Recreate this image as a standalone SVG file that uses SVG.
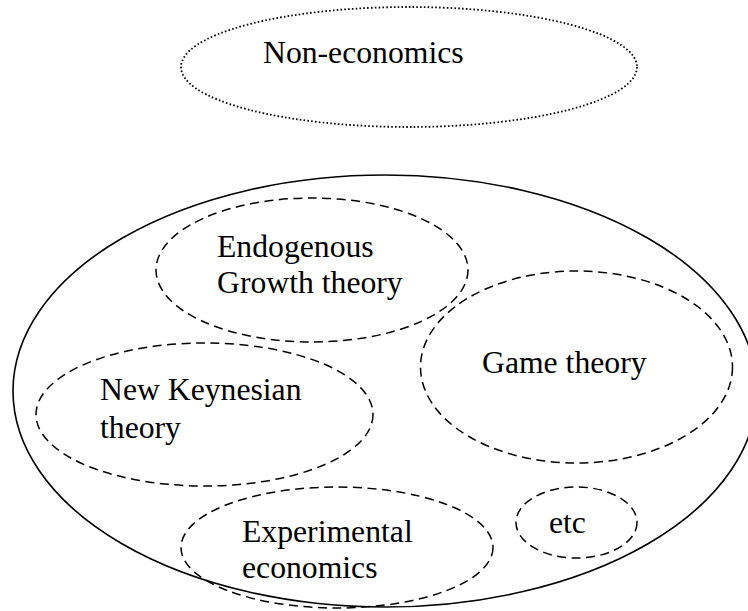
<svg xmlns="http://www.w3.org/2000/svg" width="748" height="611" viewBox="0 0 748 611">
<style>
.solid{fill:none;stroke:#000;stroke-width:1.6}
.dash{fill:none;stroke:#000;stroke-width:1.5;stroke-dasharray:9 5.5}
.dot{fill:none;stroke:#000;stroke-width:1.8;stroke-dasharray:1.6 2.2}
text{font-family:"Liberation Serif","Times New Roman",serif;font-size:31.7px;fill:#000}
</style>
<rect width="748" height="611" fill="#fff"/>
<g id="non-economics">
<ellipse class="dot" cx="409" cy="67" rx="228" ry="60"/>
<text x="263" y="63">Non-economics</text>
</g>
<g id="economics">
<ellipse class="solid" cx="385" cy="391" rx="372" ry="216"/>
</g>
<g id="endogenous">
<ellipse class="dash" cx="312" cy="270" rx="156" ry="72"/>
<text x="217" y="257">Endogenous</text>
<text x="217" y="293">Growth theory</text>
</g>
<g id="game">
<ellipse class="dash" cx="576.5" cy="367" rx="156" ry="96"/>
<text x="482" y="373">Game theory</text>
</g>
<g id="new-keynesian">
<ellipse class="dash" cx="204.5" cy="414.5" rx="168.5" ry="71.5"/>
<text x="100" y="400">New Keynesian</text>
<text x="100" y="438">theory</text>
</g>
<g id="experimental">
<ellipse class="dash" cx="337" cy="547.5" rx="156" ry="60.5"/>
<text x="242" y="542">Experimental</text>
<text x="242" y="578">economics</text>
</g>
<g id="etc">
<ellipse class="dash" cx="576.5" cy="522.5" rx="60.5" ry="35.5"/>
<text x="549" y="533">etc</text>
</g>
<g id="connectors"/>
</svg>
